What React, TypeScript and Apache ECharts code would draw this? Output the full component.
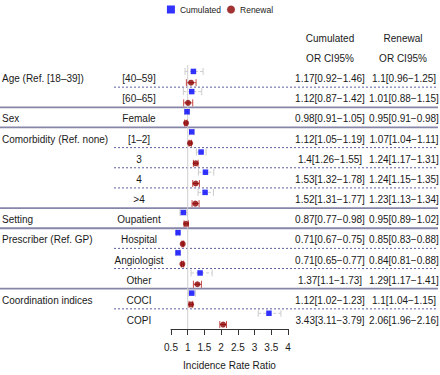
import React, { useEffect, useRef } from "react";
import * as echarts from "echarts";

const groups = [
  { label: "Age (Ref. [18–39])", row: 0 },
  { label: "Sex", row: 2 },
  { label: "Comorbidity (Ref. none)", row: 3 },
  { label: "Setting", row: 7 },
  { label: "Prescriber (Ref. GP)", row: 8 },
  { label: "Coordination indices", row: 11 },
];
const categories = ["[40–59]", "[60–65]", "Female", "[1–2]", "3", "4", ">4", "Oupatient", "Hospital", "Angiologist", "Other", "COCI", "COPI"];
const cumOR = [1.17, 1.12, 0.98, 1.12, 1.4, 1.53, 1.52, 0.87, 0.71, 0.71, 1.37, 1.12, 3.43];
const cumLo = [0.92, 0.87, 0.91, 1.05, 1.26, 1.32, 1.31, 0.77, 0.67, 0.65, 1.1, 1.02, 3.11];
const cumHi = [1.46, 1.42, 1.05, 1.19, 1.55, 1.78, 1.77, 0.98, 0.75, 0.77, 1.73, 1.23, 3.79];
const renOR = [1.1, 1.01, 0.95, 1.07, 1.24, 1.24, 1.23, 0.95, 0.85, 0.84, 1.29, 1.1, 2.06];
const renLo = [0.96, 0.88, 0.91, 1.04, 1.17, 1.15, 1.13, 0.89, 0.83, 0.81, 1.17, 1.04, 1.96];
const renHi = [1.25, 1.15, 0.98, 1.11, 1.31, 1.35, 1.34, 1.02, 0.88, 0.88, 1.41, 1.15, 2.16];
// separator after each row: "d" dashed, "s" solid
const separators = ["d", "s", "s", "d", "d", "d", "s", "s", "d", "d", "s", "d"];
const xTicks = [0.5, 4, 0.5]; // min, max, interval

const FONT = "'Liberation Sans', Arial, Helvetica, sans-serif";
const TXT = "#1a1a1a";
const BLUE_OFF = 0.22;
const RED_OFF = 0.78;
const LABEL_OFF = 0.58;

const fmt = (o: number, l: number, h: number) => `${o}[${l}−${h}]`;

export default function App() {
  const ref = useRef<HTMLDivElement>(null);
  useEffect(() => {
    if (!ref.current) return;
    const chart = echarts.init(ref.current, undefined, { renderer: "svg" });
    const n = categories.length;

    const textItem = (x: number, y: number, text: string, align: string, size = 10) => ({
      type: "text",
      x,
      y,
      style: { text, fill: TXT, fontSize: size, fontFamily: FONT, align, verticalAlign: "middle" },
    });

    const ciRender = (color: string, dashed: boolean, off: number) => (params: any, api: any) => {
      const i = api.value(0);
      const lo = api.coord([api.value(1), i + off]);
      const hi = api.coord([api.value(2), i + off]);
      const cap = 3.5;
      const st = { stroke: color, lineWidth: 1, lineDash: dashed ? [3, 2] : undefined };
      const stc = { stroke: color, lineWidth: 1 };
      return {
        type: "group",
        children: [
          { type: "line", shape: { x1: lo[0], y1: lo[1], x2: hi[0], y2: hi[1] }, style: st },
          { type: "line", shape: { x1: lo[0], y1: lo[1] - cap, x2: lo[0], y2: lo[1] + cap }, style: stc },
          { type: "line", shape: { x1: hi[0], y1: hi[1] - cap, x2: hi[0], y2: hi[1] + cap }, style: stc },
        ],
      };
    };

    const option: any = {
      animation: false,
      textStyle: { fontFamily: FONT },
      legend: {
        top: 0,
        left: "center",
        itemWidth: 8,
        itemHeight: 8,
        itemGap: 6,
        textStyle: { fontSize: 8.5, color: "#222", fontFamily: FONT },
        data: [
          { name: "Cumulated", icon: "rect" },
          { name: "Renewal", icon: "circle" },
        ],
      },
      grid: { left: 171, right: 152, top: 67, bottom: 36 },
      xAxis: {
        type: "value",
        min: xTicks[0],
        max: xTicks[1],
        interval: xTicks[2],
        name: "Incidence Rate Ratio",
        nameLocation: "middle",
        nameGap: 31,
        nameTextStyle: { fontSize: 10, color: TXT, fontFamily: FONT },
        axisLine: { show: true, onZero: false, lineStyle: { color: "#333", width: 1 } },
        axisTick: { show: true, length: 6, lineStyle: { color: "#333" } },
        axisLabel: { fontSize: 10, color: TXT, margin: 13, fontFamily: FONT },
        splitLine: { show: false },
      },
      yAxis: { type: "value", min: 0, max: n, inverse: true, show: false },
      series: [
        {
          type: "custom",
          name: "sep",
          clip: false,
          silent: true,
          data: separators.map((s, i) => [i + 1, s === "s" ? 1 : 0]),
          renderItem: (params: any, api: any) => {
            const y = api.coord([1, api.value(0)])[1];
            const solid = api.value(1) === 1;
            return {
              type: "line",
              shape: { x1: solid ? 0 : 114, y1: y, x2: 438, y2: y },
              style: solid
                ? { stroke: "#8686a8", lineWidth: 1.8 }
                : { stroke: "#5c5ca0", lineWidth: 1, lineDash: [2, 2] },
            };
          },
        },
        {
          type: "custom",
          name: "ref",
          clip: false,
          silent: true,
          data: [[1]],
          renderItem: (params: any, api: any) => {
            const a = api.coord([api.value(0), 0]);
            const b = api.coord([api.value(0), n]);
            return { type: "line", shape: { x1: a[0], y1: a[1] - 2, x2: b[0], y2: b[1] }, style: { stroke: "#cfcfcf", lineWidth: 1 } };
          },
        },
        {
          type: "custom",
          name: "cumCI",
          silent: true,
          clip: false,
          data: cumOR.map((_, i) => [i, cumLo[i], cumHi[i]]),
          renderItem: ciRender("#cccccc", true, BLUE_OFF),
        },
        {
          type: "custom",
          name: "renCI",
          silent: true,
          clip: false,
          data: renOR.map((_, i) => [i, renLo[i], renHi[i]]),
          renderItem: ciRender("#c84848", false, RED_OFF),
        },
        {
          type: "scatter",
          name: "Cumulated",
          symbol: "rect",
          symbolSize: 5.5,
          itemStyle: { color: "#0000ff" },
          data: cumOR.map((v, i) => [v, i + BLUE_OFF]),
          z: 5,
        },
        {
          type: "scatter",
          name: "Renewal",
          symbol: "circle",
          symbolSize: 6,
          itemStyle: { color: "#8b0000" },
          data: renOR.map((v, i) => [v, i + RED_OFF]),
          z: 5,
        },
        {
          type: "custom",
          name: "texts",
          clip: false,
          silent: true,
          data: categories.map((_, i) => [i]),
          renderItem: (params: any, api: any) => {
            const i = api.value(0);
            const y = api.coord([1, i + LABEL_OFF])[1];
            const children: any[] = [
              textItem(139, y, categories[i], "center"),
              textItem(330, y, fmt(cumOR[i], cumLo[i], cumHi[i]), "center"),
              textItem(404, y, fmt(renOR[i], renLo[i], renHi[i]), "center"),
            ];
            const g = groups.find((gg) => gg.row === i);
            if (g) children.push(textItem(2, y, g.label, "left"));
            return { type: "group", children };
          },
        },
        {
          type: "custom",
          name: "headers",
          clip: false,
          silent: true,
          data: [[-1.43, 0], [-0.43, 1]],
          renderItem: (params: any, api: any) => {
            const y = api.coord([1, api.value(0)])[1];
            const row = api.value(1);
            return {
              type: "group",
              children: [
                textItem(330, y, row === 0 ? "Cumulated" : "OR CI95%", "center"),
                textItem(403, y, row === 0 ? "Renewal" : "OR CI95%", "center"),
              ],
            };
          },
        },
      ],
    };
    chart.setOption(option);
    return () => chart.dispose();
  }, []);
  return <div ref={ref} style={{ width: 440, height: 375, position: "absolute", left: 0, top: 0 }} />;
}
